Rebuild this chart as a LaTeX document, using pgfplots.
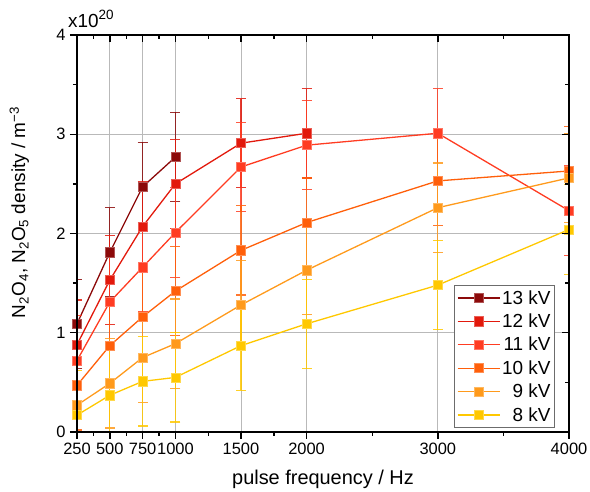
\documentclass[border=0pt]{standalone}
\usepackage{fontspec}
\setmainfont{Liberation Sans}
\usepackage{pgfplots}
\usepackage{pgfplotstable}
\pgfplotsset{compat=1.18}

\definecolor{c13}{HTML}{8C0A0A}
\definecolor{c12}{HTML}{E2190C}
\definecolor{c11}{HTML}{FF3C22}
\definecolor{c10}{HTML}{FF5F0A}
\definecolor{c9}{HTML}{FF9A1C}
\definecolor{c8}{HTML}{FFC800}

\pgfplotstableread{
x y e
250 1.09 0.45
500 1.81 0.45
750 2.47 0.45
1000 2.77 0.45
}\tA
\pgfplotstableread{
x y e
250 0.88 0.45
500 1.53 0.45
750 2.07 0.45
1000 2.50 0.45
1500 2.91 0.45
2000 3.01 0.45
}\tB
\pgfplotstableread{
x y e
250 0.72 0.45
500 1.31 0.45
750 1.66 0.45
1000 2.01 0.45
1500 2.67 0.45
2000 2.89 0.45
3000 3.01 0.45
4000 2.23 0.45
}\tC
\pgfplotstableread{
x y e
250 0.47 0.45
500 0.87 0.45
750 1.16 0.45
1000 1.42 0.45
1500 1.83 0.45
2000 2.11 0.45
3000 2.53 0.45
4000 2.63 0.45
}\tD
\pgfplotstableread{
x y e
250 0.27 0.45
500 0.49 0.45
750 0.75 0.45
1000 0.89 0.45
1500 1.28 0.45
2000 1.63 0.45
3000 2.26 0.45
4000 2.56 0.45
}\tE
\pgfplotstableread{
x y e
250 0.17 0.45
500 0.37 0.45
750 0.51 0.45
1000 0.55 0.45
1500 0.87 0.45
2000 1.09 0.45
3000 1.48 0.45
4000 2.04 0.45
}\tF

\pgfplotsset{
  ser/.style={
    color=#1, line width=1.3bp,
    mark=square*, mark size=4.6bp,
    mark options={solid, fill=#1, draw=#1!70!white, line width=0.6bp},
    error bars/.cd, y dir=both, y explicit,
    error bar style={color=#1, line width=1.2bp, opacity=0.85},
    error mark options={rotate=90, mark size=5bp, line width=1.2bp, color=#1, opacity=0.85},
  },
}

\begin{document}
\begin{tikzpicture}
\begin{axis}[
  name=ax,
  scale only axis, width=492bp, height=397bp,
  xmin=250, xmax=4000, ymin=0, ymax=4,
  xtick={250,500,750,1000,1500,2000,3000,4000},
  minor xtick={375,625,875,1250,1750,2500,3500},
  ytick={0,1,2,3,4},
  minor ytick={0.5,1.5,2.5,3.5},
  tick pos=left, tick align=outside,
  major tick length=7bp, minor tick length=4bp,
  tick style={black, line width=1.4bp},
  axis line style={black, line width=1.8bp},
  grid=major, major grid style={gray!55, line width=0.7bp},
  /pgf/number format/assume math mode=true,
  /pgf/number format/1000 sep={},
  ticklabel style={font=\fontsize{16.5}{19}\selectfont},
  xticklabel style={yshift=-1bp},
  yticklabel style={xshift=-1bp},
  xlabel={pulse frequency / Hz},
  ylabel={N\textsubscript{2}O\textsubscript{4}, N\textsubscript{2}O\textsubscript{5} density / m\textsuperscript{−3}},
  xlabel style={font=\fontsize{20}{24}\selectfont, yshift=-8bp},
  ylabel style={font=\fontsize{19}{22}\selectfont,
    at={(axis description cs:-0.117,0.553)}, anchor=center},
  legend cell align=right,
  legend style={at={(axis description cs:1,0)}, anchor=south east,
    xshift=-14bp, yshift=4bp, draw=gray!85!black, line width=0.9bp,
    font=\fontsize{19}{22}\selectfont, row sep=4.2bp,
    inner xsep=2bp, inner ysep=3bp},
  legend image code/.code={%
    \draw[mark repeat=2, mark phase=2, line width=1.3bp]
      plot coordinates {(0bp,0bp) (21bp,0bp) (42bp,0bp)};},
]
\addplot[ser=c13] table[x=x, y=y, y error=e] {\tA};
\addlegendentry{13 kV}
\addplot[ser=c12] table[x=x, y=y, y error=e] {\tB};
\addlegendentry{12 kV}
\addplot[ser=c11] table[x=x, y=y, y error=e] {\tC};
\addlegendentry{11 kV}
\addplot[ser=c10] table[x=x, y=y, y error=e] {\tD};
\addlegendentry{10 kV}
\addplot[ser=c9] table[x=x, y=y, y error=e] {\tE};
\addlegendentry{9 kV}
\addplot[ser=c8] table[x=x, y=y, y error=e] {\tF};
\addlegendentry{8 kV}
\end{axis}
\begin{axis}[
  scale only axis, width=492bp, height=397bp,
  xmin=250, xmax=4000, ymin=0, ymax=4,
  xtick={250,500,750,1000,1500,2000,3000,4000},
  minor xtick={375,625,875,1250,1750,2500,3500},
  ytick={0,1,2,3,4},
  minor ytick={0.5,1.5,2.5,3.5},
  tick pos=right, tick align=inside,
  major tick length=7bp, minor tick length=4bp,
  tick style={black, line width=1.4bp},
  axis line style={black, line width=1.8bp},
  xticklabels={}, yticklabels={},
]
\end{axis}
\node[anchor=base west, inner sep=0pt, font=\fontsize{19}{22}\selectfont]
  at ([shift={(-9bp,7bp)}]ax.north west)
  {x10\raisebox{0.8ex}{\fontsize{13.5}{14}\selectfont 20}};
\pgfresetboundingbox
\path ([shift={(-77bp,-60bp)}]ax.south west) rectangle ([shift={(21bp,35bp)}]ax.north east);
\end{tikzpicture}
\end{document}
